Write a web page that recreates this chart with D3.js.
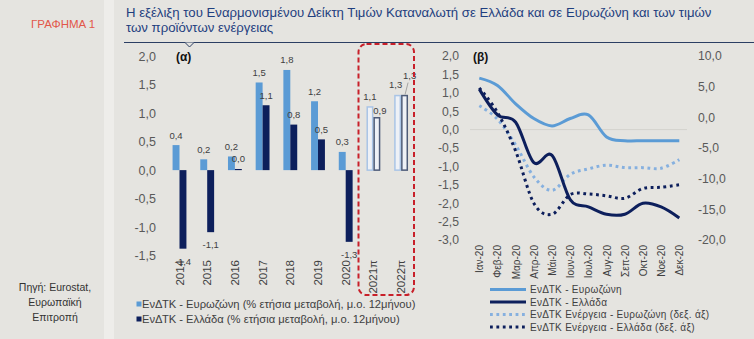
<!DOCTYPE html>
<html><head><meta charset="utf-8">
<script src="https://cdn.jsdelivr.net/npm/d3@7/dist/d3.min.js"></script>
<style>
html,body{margin:0;padding:0;background:#e5e4e0;}
svg{display:block;font-family:"Liberation Sans",Arial,sans-serif;}
</style></head>
<body>
<svg id="c" width="754" height="339"></svg>
<script>
// ---------- data ----------
const years = ["2014","2015","2016","2017","2018","2019","2020","2021π","2022π"];
const forecastYears = ["2021π","2022π"];
const ezAnnual = [0.44, 0.19, 0.24, 1.54, 1.76, 1.21, 0.32, 1.11, 1.31];
const grAnnual = [-1.38, -1.09, 0.02, 1.14, 0.80, 0.54, -1.26, 0.92, 1.31];
const leftTicks = [2.0, 1.5, 1.0, 0.5, 0.0, -0.5, -1.0, -1.5];

const months = ["Ιαν-20","Φεβ-20","Μαρ-20","Απρ-20","Μάι-20","Ιουν-20","Ιουλ-20","Αυγ-20","Σεπ-20","Οκτ-20","Νοε-20","Δεκ-20"];
const ezHicp = [1.4, 1.2, 0.7, 0.3, 0.1, 0.3, 0.4, -0.2, -0.3, -0.3, -0.3, -0.3];
const grHicp = [1.1, 0.4, 0.2, -0.9, -0.7, -1.9, -2.1, -2.3, -2.3, -2.0, -2.1, -2.4];
const ezEnergy = [1.9, -0.3, -4.5, -9.7, -11.9, -9.3, -8.4, -7.8, -8.2, -8.2, -8.3, -6.9];
const grEnergy = [4.8, 0.8, -5.5, -14.0, -15.8, -12.6, -12.5, -12.8, -13.2, -11.6, -11.4, -11.0];
const bLeftTicks = [2.0,1.5,1.0,0.5,0.0,-0.5,-1.0,-1.5,-2.0,-2.5,-3.0];
const bRightTicks = [10,5,0,-5,-10,-15,-20];

const legendA = ["ΕνΔΤΚ - Ευρωζώνη (% ετήσια μεταβολή, μ.ο. 12μήνου)","ΕνΔΤΚ - Ελλάδα (% ετήσια μεταβολή, μ.ο. 12μήνου)"];
const legendB = ["ΕνΔΤΚ - Ευρωζώνη","ΕνΔΤΚ - Ελλάδα","ΕνΔΤΚ Ενέργεια - Ευρωζώνη (δεξ. άξ)","ΕνΔΤΚ Ενέργεια - Ελλάδα (δεξ. άξ)"];

// ---------- styles ----------
const C_LIGHT = "#5b9bd5", C_DARK = "#0d1f5c", C_LDOT = "#86b0df";
const fmt = v => v.toFixed(1).replace(".", ",").replace("-0,0","0,0");

const svg = d3.select("#c");
// panels
svg.append("rect").attr("x",104).attr("y",0).attr("width",10).attr("height",339).attr("fill","#eeedea");
svg.append("text").attr("x",31).attr("y",28).attr("fill","#e2574a").attr("font-size",11.5).text("ΓΡΑΦΗΜΑ 1");
const src = svg.append("text").attr("fill","#333").attr("font-size",10.5).attr("text-anchor","middle");
["Πηγή: Eurostat,","Ευρωπαϊκή","Επιτροπή"].forEach((t,i)=>src.append("tspan").attr("x",55).attr("y",291+i*15).text(t));

// title
const tt = svg.append("g").attr("fill","#1f3f7f").attr("font-size",13.2);
tt.append("text").attr("x",126).attr("y",17).text("Η εξέλιξη του Εναρμονισμένου Δείκτη Τιμών Καταναλωτή σε Ελλάδα και σε Ευρωζώνη και των τιμών");
tt.append("text").attr("x",126).attr("y",32).text("των προϊόντων ενέργειας");
svg.append("line").attr("x1",124).attr("x2",754).attr("y1",42.5).attr("y2",42.5).attr("stroke","#2b3e63").attr("stroke-width",1);
svg.append("path").attr("d","M185,42.5 L189.5,47 L194,42.5").attr("fill","#e5e4e0").attr("stroke","#2b3e63").attr("stroke-width",1);

// ---------- chart (α) ----------
const x0 = d3.scaleBand().domain(years).range([165.65, 414.95]).paddingInner(0.5).paddingOuter(0.25);
const x1 = d3.scaleBand().domain(["ez","gr"]).range([0, x0.bandwidth()]);
const yA = d3.scaleLinear().domain([-1.5, 2]).range([255.5, 56.3]);

const axA = svg.append("g").attr("transform","translate(156,0)")
  .call(d3.axisLeft(yA).tickValues(leftTicks).tickSize(0).tickPadding(0).tickFormat(fmt));
axA.select(".domain").remove();
axA.selectAll("text").attr("font-size",12.5).attr("fill","#595959").attr("font-family","Liberation Sans, Arial");

const axAx = svg.append("g").attr("transform","translate(0,260)")
  .call(d3.axisBottom(x0).tickSize(0).tickPadding(0));
axAx.select(".domain").remove();
axAx.selectAll("text").attr("transform","rotate(-90)").attr("x",0).attr("y",0).attr("dy","0.35em")
  .attr("text-anchor","end").attr("font-size",11.5).attr("fill","#404040").attr("font-family","Liberation Sans, Arial");

const barData = [];
years.forEach((yr,i)=>{
  barData.push({yr, s:"ez", v:ezAnnual[i], f:forecastYears.includes(yr)});
  barData.push({yr, s:"gr", v:grAnnual[i], f:forecastYears.includes(yr)});
});
const gb = svg.append("g");
gb.selectAll("rect").data(barData).join("rect")
  .attr("x", d => x0(d.yr) + x1(d.s) + (d.f ? 0.75 : 0))
  .attr("width", d => x1.bandwidth() - (d.f ? 1.5 : 0))
  .attr("y", d => yA(Math.max(0, d.v)))
  .attr("height", d => Math.abs(yA(d.v) - yA(0)))
  .attr("fill", d => d.f ? "#eef1f6" : (d.s === "ez" ? C_LIGHT : C_DARK))
  .attr("stroke", d => d.f ? (d.s === "ez" ? "#a9c4e6" : "#4d5b78") : "none")
  .attr("stroke-width", d => d.f ? 1.5 : 0);

const gl = svg.append("g").attr("font-size",9.5).attr("fill","#404040").attr("text-anchor","middle");
barData.forEach(d=>{
  let cx = x0(d.yr) + x1(d.s) + x1.bandwidth()/2;
  let cy = d.v >= 0 ? yA(d.v) - 6.5 : yA(d.v) + 16;
  if (d.yr === "2022π" && d.s === "gr") {
    gl.append("line").attr("x1",cx+0.5).attr("y1",yA(d.v)-1).attr("x2",cx+3.5).attr("y2",yA(d.v)-13).attr("stroke","#888").attr("stroke-width",0.7);
    cx += 5; cy -= 10;
  }
  if (d.yr === "2022π" && d.s === "ez") { cx -= 2; cy -= 1.5; }
  if (d.yr === "2021π" && d.s === "gr") { cx += 3; cy += 2.5; }
  gl.append("text").attr("x",cx).attr("y",cy).text(fmt(d.v));
});

svg.append("text").attr("x",176).attr("y",60.5).attr("font-size",12).attr("font-weight","bold").attr("fill","#111").text("(α)");

// dashed frame around forecasts
svg.append("rect").attr("x",358.5).attr("y",44).attr("width",55.5).attr("height",251).attr("rx",8)
  .attr("fill","none").attr("stroke","#c8202a").attr("stroke-width",2).attr("stroke-dasharray","5,3");

// legend (α)
const lgA = svg.append("g").attr("font-size",11.2).attr("fill","#404040");
legendA.forEach((t,i)=>{
  lgA.append("rect").attr("x",136.5).attr("y",301.5+i*15).attr("width",5).attr("height",5).attr("fill", i===0?C_LIGHT:C_DARK);
  lgA.append("text").attr("x",142).attr("y",308+i*15).text(t);
});

// ---------- chart (β) ----------
const xB = d3.scalePoint().domain(months).range([479.3, 679.3]);
const yBL = d3.scaleLinear().domain([-3, 2]).range([240, 56]);
const yBR = d3.scaleLinear().domain([-20, 10]).range([240, 56]);

svg.append("line").attr("x1",470).attr("x2",687).attr("y1",yBL(0)).attr("y2",yBL(0)).attr("stroke","#d3d2ce").attr("stroke-width",1);

const axBL = svg.append("g").attr("transform","translate(459,0)")
  .call(d3.axisLeft(yBL).tickValues(bLeftTicks).tickSize(0).tickPadding(0).tickFormat(fmt));
axBL.select(".domain").remove();
axBL.selectAll("text").attr("font-size",12.2).attr("fill","#595959").attr("font-family","Liberation Sans, Arial");

const axBR = svg.append("g").attr("transform","translate(698,0)")
  .call(d3.axisRight(yBR).tickValues(bRightTicks).tickSize(0).tickPadding(0).tickFormat(fmt));
axBR.select(".domain").remove();
axBR.selectAll("text").attr("font-size",12.2).attr("fill","#595959").attr("font-family","Liberation Sans, Arial");

const axBx = svg.append("g").attr("transform","translate(0,245)")
  .call(d3.axisBottom(xB).tickSize(0).tickPadding(0));
axBx.select(".domain").remove();
axBx.selectAll("text").attr("transform","rotate(-90)").attr("x",0).attr("y",0).attr("dy","0.35em")
  .attr("text-anchor","end").attr("font-size",10).attr("fill","#404040").attr("font-family","Liberation Sans, Arial");

const series = [
  {vals: ezHicp, y: yBL, color: C_LIGHT, w: 3, dash: null},
  {vals: grHicp, y: yBL, color: C_DARK, w: 3, dash: null},
  {vals: ezEnergy, y: yBR, color: C_LDOT, w: 3, dash: "2.8,3.6"},
  {vals: grEnergy, y: yBR, color: C_DARK, w: 3, dash: "2.8,3.6"}
];
const drawOrder = [2,3,0,1];
drawOrder.forEach(k=>{
  const s = series[k];
  const line = d3.line().x((d,i)=>xB(months[i])).y(d=>s.y(d)).curve(d3.curveCardinal.tension(0));
  svg.append("path").attr("d", line(s.vals)).attr("fill","none").attr("stroke", s.color)
    .attr("stroke-width", s.w).attr("stroke-dasharray", s.dash).attr("stroke-linecap","butt");
});

svg.append("text").attr("x",473).attr("y",60.5).attr("font-size",12).attr("font-weight","bold").attr("fill","#111").text("(β)");

// legend (β)
const lgB = svg.append("g").attr("font-size",10).attr("fill","#404040");
legendB.forEach((t,i)=>{
  const yy = 289.5 + i*12.5;
  const s = series[i];
  lgB.append("line").attr("x1",490).attr("x2",526).attr("y1",yy).attr("y2",yy)
    .attr("stroke", s.color).attr("stroke-width", s.w).attr("stroke-dasharray", s.dash);
  lgB.append("text").attr("x",530).attr("y",yy+3.5).attr("letter-spacing","0.3px").text(t);
});
</script>
</body></html>
